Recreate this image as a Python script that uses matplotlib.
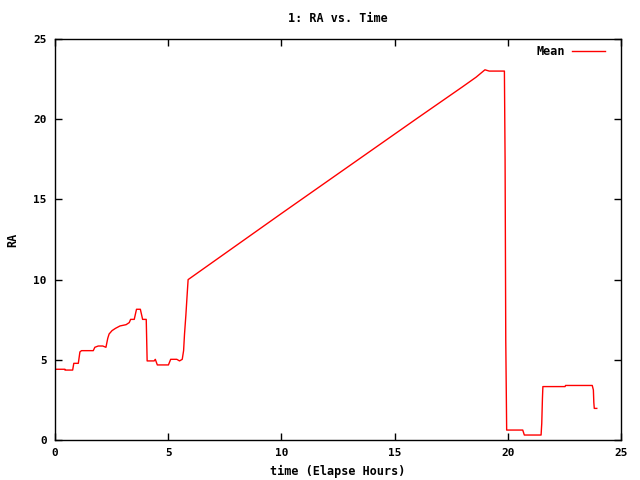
import matplotlib
matplotlib.use("Agg")
import matplotlib.pyplot as plt

# elapsed hours and mean RA
hours = [0.00, 0.44, 0.44, 0.78, 0.83, 1.03, 1.10, 1.17, 1.69, 1.76, 1.91, 2.11,
         2.25, 2.33, 2.39, 2.52, 2.67, 2.87, 3.14, 3.28, 3.34, 3.50, 3.60, 3.77,
         3.87, 4.03, 4.05, 4.07, 4.38, 4.43, 4.52, 5.01, 5.11, 5.38, 5.50, 5.62,
         5.68, 5.72, 5.78, 5.85, 5.88, 8.00, 10.00, 12.00, 14.00, 16.00, 18.00,
         18.60, 18.99, 19.18, 19.85, 19.88, 19.91, 19.95, 20.66, 20.73, 21.47,
         21.50, 21.53, 21.55, 22.53, 22.55, 23.73, 23.78, 23.80, 23.82, 23.93]
ra_mean = [4.41, 4.41, 4.36, 4.36, 4.78, 4.78, 5.49, 5.57, 5.57, 5.78, 5.86, 5.86,
           5.78, 6.34, 6.61, 6.82, 6.96, 7.11, 7.19, 7.32, 7.52, 7.52, 8.15, 8.15,
           7.52, 7.52, 6.23, 4.93, 4.93, 5.03, 4.68, 4.68, 5.03, 5.03, 4.93, 5.03,
           5.57, 6.59, 7.77, 9.35, 10.00, 12.12, 14.12, 16.10, 18.08, 20.06, 22.02,
           22.62, 23.08, 23.00, 23.00, 17.46, 6.23, 0.62, 0.62, 0.31, 0.31,
           1.04, 2.60, 3.33, 3.33, 3.40, 3.40, 3.12, 2.33, 1.97, 1.97]

plt.rcParams["font.family"] = "DejaVu Sans Mono"
plt.rcParams["font.weight"] = "bold"
plt.rcParams["font.size"] = 8

fig = plt.figure(figsize=(6.4, 4.8), dpi=100)
ax = fig.add_axes([55 / 640, 40 / 480, 566 / 640, 401 / 480])

ax.plot(hours, ra_mean, color="red", linewidth=1, label="Mean")
ax.set_xlim(0, 25)
ax.set_ylim(0, 25)
ax.set_xticks([0, 5, 10, 15, 20, 25])
ax.set_yticks([0, 5, 10, 15, 20, 25])
ax.tick_params(direction="in", top=True, right=True, length=5, width=1, pad=6)
for s in ax.spines.values():
    s.set_linewidth(1)

ax.set_title("1: RA vs. Time", fontsize=8.5, fontweight="bold", pad=12)
ax.set_xlabel("time (Elapse Hours)", fontsize=8.5, fontweight="bold", labelpad=5)
ax.set_ylabel("RA", fontsize=8.5, fontweight="bold", labelpad=10)

ax.legend(loc="upper right", frameon=False, markerfirst=False, handlelength=2.8,
          handletextpad=0.6, borderaxespad=0.3,
          bbox_to_anchor=(1 - 8 / 566, 1 + 2 / 401),
          prop={"weight": "bold", "size": 8.5})

fig.savefig("out.png", dpi=100)
